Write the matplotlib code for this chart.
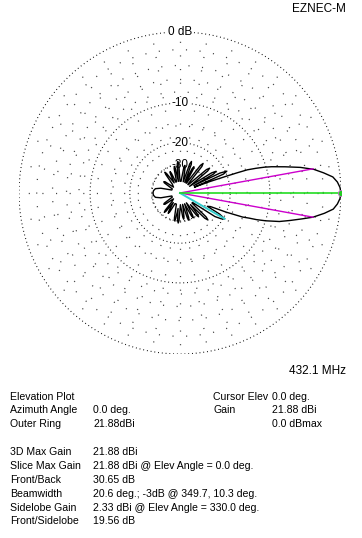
import numpy as np
import matplotlib
matplotlib.use("Agg")
import matplotlib.pyplot as plt

plt.rcParams['font.family'] = ['Liberation Sans', 'DejaVu Sans']

# ---- pattern data (elevation angle in deg, gain in dB relative to max) ----
pattern_angle = [
    0, 2, 4, 6, 8, 10, 12, 14, 16, 17, 18, 19, 19.5, 20, 21,
    22, 23.5, 25, 26.5, 28,
    29.5, 31, 32.5, 35,
    38.5, 40, 41.5, 45,
    48, 50.5, 52, 53.5, 57,
    59, 61, 62, 63.5, 66,
    68.5, 70, 71.5, 74,
    78.5, 80, 81.5, 85,
    90, 92.5, 94, 95.5, 98,
    100.5, 102, 103.5, 107,
    111, 113.5, 115, 116.5, 120,
    124.5, 126, 127.5, 131,
    138, 143, 145, 147, 152,
    160, 166, 170, 175, 180, 185, 190, 194, 200,
    208, 213, 215, 217, 222,
    227, 229.5, 231, 232.5, 235,
    238.5, 240, 241.5, 245,
    252, 257.5, 259, 260.5, 263,
    265, 266.6, 268, 272,
    276.5, 278, 279.5, 283,
    286.5, 288, 289.5, 293,
    296.5, 298, 299.5, 303,
    306.5, 308, 309.5, 312,
    314.5, 316, 317.5, 320,
    323, 326, 328, 330, 332, 334,
    336, 337.5, 339, 340, 340.8, 342, 344, 346, 348, 349.7, 352,
    354, 356, 358, 360]
pattern_db = [
    0, -0.1, -0.35, -0.8, -1.8, -2.9, -4.6, -6.8, -9.0, -10.3, -12.0, -14.0,
    -17.0, -21.0, -28.0,
    -40.0, -21.0, -19.5, -22.0, -40.0,
    -24.5, -23.0, -25.0, -45.0,
    -26.0, -24.5, -26.0, -45.0,
    -45.0, -26.5, -25.0, -26.5, -45.0,
    -45.0, -30.0, -29.0, -30.5, -45.0,
    -28.4, -26.9, -28.4, -45.0,
    -31.5, -30.0, -31.5, -45.0,
    -45.0, -29.4, -27.9, -29.4, -45.0,
    -32.0, -30.5, -32.0, -45.0,
    -45.0, -34.5, -33.0, -34.5, -45.0,
    -33.0, -31.5, -33.0, -45.0,
    -50.0, -37.0, -36.0, -37.0, -50.0,
    -50.0, -36.0, -32.0, -30.9, -30.65, -30.9, -32.0, -36.0, -50.0,
    -50.0, -37.0, -36.0, -37.0, -50.0,
    -45.0, -33.5, -32.0, -33.5, -45.0,
    -34.5, -33.0, -34.5, -45.0,
    -45.0, -31.4, -29.9, -31.4, -40.0,
    -30.3, -28.8, -30.3, -45.0,
    -32.5, -31.0, -32.5, -45.0,
    -31.2, -29.7, -31.2, -45.0,
    -31.5, -30.0, -31.5, -45.0,
    -30.2, -28.7, -30.2, -40.0,
    -26.0, -24.4, -26.0, -40.0,
    -40.0, -23.0, -20.5, -19.56, -22.0, -28.6,
    -27.0, -20.0, -15.0, -13.5, -11.8, -10.0, -7.6, -6.0, -4.4, -3.0, -1.7,
    -0.75, -0.35, -0.1, 0]

ring_db = [0, -10, -20, -30]
ring_labels = ["0 dB", "-10", "-20", "-30"]
minor_ring_db = [-2, -4, -6, -8, -15]
spoke_angles = list(range(0, 360, 10))

beam_edges = [10.3, 349.7]
beam_edge_db = -3.0
sidelobe_angle = 330.0
sidelobe_db = -19.56

left_labels = ["Elevation Plot", "Azimuth Angle", "Outer Ring"]
left_values = ["", "0.0 deg.", "21.88dBi"]
right_labels = ["Cursor Elev", "Gain", ""]
right_values = ["0.0 deg.", "21.88 dBi", "0.0 dBmax"]
stat_labels = ["3D Max Gain", "Slice Max Gain", "Front/Back", "Beamwidth",
               "Sidelobe Gain", "Front/Sidelobe"]
stat_values = ["21.88 dBi", "21.88 dBi @ Elev Angle = 0.0 deg.", "30.65 dB",
               "20.6 deg.; -3dB @ 349.7, 10.3 deg.",
               "2.33 dBi @ Elev Angle = 330.0 deg.", "19.56 dB"]


def arrl_r(db):
    db = np.asarray(db, dtype=float)
    return 0.89 ** (-db / 2.0)


def xy(angle_deg, db):
    a = np.radians(np.asarray(angle_deg, dtype=float))
    r = arrl_r(db)
    return r * np.cos(a), r * np.sin(a)


W, H = 362, 538
fig = plt.figure(figsize=(W / 100, H / 100), dpi=100)
cx, cy, R = 180, 193, 161
ax = fig.add_axes([(cx - R) / W, (H - cy - R) / H, 2 * R / W, 2 * R / H])
ax.set_xlim(-1, 1)
ax.set_ylim(-1, 1)
ax.axis('off')

th = np.linspace(0, 2 * np.pi, 721)
# sparse grid
for d in minor_ring_db:
    r = arrl_r(d)
    ax.plot(r * np.cos(th), r * np.sin(th), color='#444444', lw=0.9,
            linestyle=(0, (0.9, 10)), zorder=1)
for a in spoke_angles:
    ar = np.radians(a)
    r0 = arrl_r(-30)
    ax.plot([r0 * np.cos(ar), np.cos(ar)], [r0 * np.sin(ar), np.sin(ar)],
            color='#444444', lw=0.9, linestyle=(0, (0.9, 10)), zorder=1)
# labelled rings
for d in ring_db:
    r = arrl_r(d)
    ax.plot(r * np.cos(th), r * np.sin(th), color='black', lw=0.8,
            linestyle=(0, (0.8, 2.6)), zorder=2)

# pattern
px, py = xy(pattern_angle, pattern_db)
ax.plot(px, py, color='black', lw=1.0, zorder=4)

# beamwidth lines
for a in beam_edges:
    ex, ey = xy([a], [beam_edge_db])
    ax.plot([0, ex[0]], [0, ey[0]], color='#cc00cc', lw=1.0, zorder=5)
# sidelobe line
sx, sy = xy([sidelobe_angle], [sidelobe_db])
ax.plot([0, sx[0]], [0, sy[0]], color='#33cccc', lw=1.4, zorder=5)
# cursor line
ax.plot([0, 1], [0, 0], color='#22dd22', lw=1.2, zorder=6)
ax.plot([1], [0], marker='o', ms=4.5, color='#22cc22', mec='#cc66cc',
        mew=0.6, zorder=7)

# ring labels
for d, lab in zip(ring_db, ring_labels):
    r = arrl_r(d)
    ax.text(0, r, lab, ha='center', va='center', fontsize=8.5,
            color='black', zorder=3,
            bbox=dict(boxstyle='square,pad=0.05', fc='white', ec='none'))

# header texts
fig.text(346 / W, 1 - 9 / H, "EZNEC-M", ha='right', va='center', fontsize=8.5)
fig.text(346 / W, 1 - 371 / H, "432.1 MHz", ha='right', va='center', fontsize=8.5)

fs = 7.6
row_y = [397, 410, 424]
for y, l, v, rl, rv in zip(row_y, left_labels, left_values, right_labels, right_values):
    fig.text(10 / W, 1 - y / H, l, ha='left', va='center', fontsize=fs)
    fig.text(93 / W, 1 - y / H, v, ha='left', va='center', fontsize=fs)
    fig.text(213 / W, 1 - y / H, rl, ha='left', va='center', fontsize=fs)
    fig.text(272 / W, 1 - y / H, rv, ha='left', va='center', fontsize=fs)

stat_y = [452, 466, 480, 494, 508, 521]
for y, l, v in zip(stat_y, stat_labels, stat_values):
    fig.text(10 / W, 1 - y / H, l, ha='left', va='center', fontsize=fs)
    fig.text(93 / W, 1 - y / H, v, ha='left', va='center', fontsize=fs)

fig.savefig("out.png", dpi=100, facecolor='white')
